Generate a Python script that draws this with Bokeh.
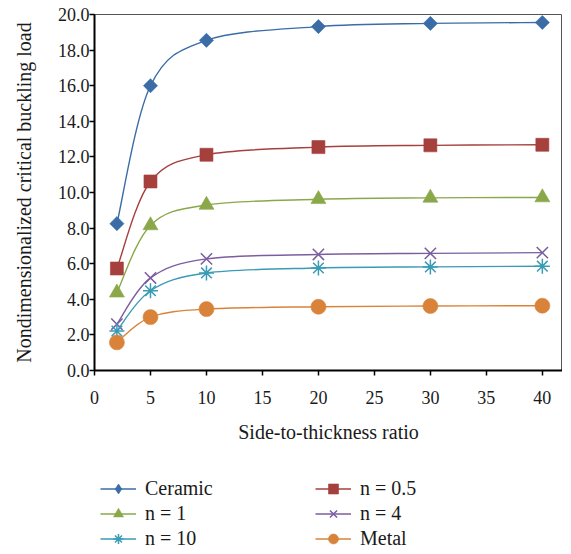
import numpy as np
from bokeh.plotting import figure
from bokeh.layouts import column
from bokeh.models import Legend, LegendItem, PrintfTickFormatter, FixedTicker, Range1d, ColumnDataSource
from bokeh.embed import file_html
from bokeh.resources import INLINE

# ---- data ----
ratio = [2, 5, 10, 20, 30, 40]
ceramic = [8.25, 16.0, 18.55, 19.32, 19.5, 19.55]
n05 = [5.73, 10.62, 12.12, 12.55, 12.65, 12.68]
n1 = [4.37, 8.15, 9.3, 9.62, 9.7, 9.72]
n4 = [2.6, 5.2, 6.27, 6.52, 6.58, 6.62]
n10 = [2.22, 4.48, 5.48, 5.76, 5.82, 5.86]
metal = [1.58, 3.0, 3.45, 3.58, 3.62, 3.64]

series_names = ["Ceramic", "n = 0.5", "n = 1", "n = 4", "n = 10", "Metal"]
series_vals = [ceramic, n05, n1, n4, n10, metal]
colors = ["#3b6ca6", "#a5403d", "#8aa84a", "#7b5e9f", "#3a9bb5", "#d9833a"]
markers = ["square", "square", "triangle", "x", "asterisk", "circle"]
legend_markers = ["diamond", "square", "triangle", "x", "asterisk", "circle"]
msizes = [10, 13, 15, 16, 15, 15]
angles = [np.pi / 4, 0, 0, 0, 0, 0]

FONT = "Liberation Serif"

p = figure(width=562, height=460, output_backend="svg", toolbar_location=None,
           x_range=Range1d(0, 41.8), y_range=Range1d(0, 20),
           min_border_left=94, min_border_right=0, min_border_top=14, min_border_bottom=90)
p.background_fill_color = "white"
p.border_fill_color = "white"
p.grid.visible = False
p.outline_line_color = "#555555"
p.outline_line_width = 1

# legend-only figure
lf = figure(width=562, height=93, output_backend="svg", toolbar_location=None,
            x_range=Range1d(0, 1), y_range=Range1d(0, 1),
            min_border_left=0, min_border_right=0, min_border_top=0, min_border_bottom=0,
            x_axis_location=None, y_axis_location=None)
lf.grid.visible = False
lf.outline_line_color = None
lf.background_fill_color = "white"
lf.border_fill_color = "white"


def smooth_bezier(xs, ys):
    xs = np.asarray(xs, float)
    ys = np.asarray(ys, float)
    n = len(xs)
    d = dict(x0=[], y0=[], x1=[], y1=[], cx0=[], cy0=[], cx1=[], cy1=[])
    for i in range(n - 1):
        i0 = max(i - 1, 0)
        i3 = min(i + 2, n - 1)
        d["x0"].append(xs[i]); d["y0"].append(ys[i])
        d["x1"].append(xs[i + 1]); d["y1"].append(ys[i + 1])
        d["cx0"].append(xs[i] + (xs[i + 1] - xs[i0]) / 6)
        d["cy0"].append(ys[i] + (ys[i + 1] - ys[i0]) / 6)
        d["cx1"].append(xs[i + 1] - (xs[i3] - xs[i]) / 6)
        d["cy1"].append(ys[i + 1] - (ys[i3] - ys[i]) / 6)
    return d


items = []
for name, vals, c, m, lm, s, a in zip(series_names, series_vals, colors, markers,
                                      legend_markers, msizes, angles):
    src = ColumnDataSource(smooth_bezier(ratio, vals))
    p.bezier(x0="x0", y0="y0", x1="x1", y1="y1", cx0="cx0", cy0="cy0", cx1="cx1", cy1="cy1",
             source=src, line_color=c, line_width=1.4)
    if m in ("x", "asterisk"):
        p.scatter(ratio, vals, marker=m, size=s, line_color=c, line_width=1.5)
    else:
        p.scatter(ratio, vals, marker=m, size=s, fill_color=c, line_color=c,
                  line_width=1, line_alpha=0.6, angle=a)
    # legend proxies (not drawn in the plot, legend glyphs only)
    leg_line = lf.line(x=[np.nan], y=[np.nan], line_color=c, line_width=1.4)
    if lm in ("x", "asterisk"):
        leg_mark = lf.scatter(x=[np.nan], y=[np.nan], marker=lm, size=s, line_color=c, line_width=1.5)
    else:
        leg_mark = lf.scatter(x=[np.nan], y=[np.nan], marker=lm, size=s, fill_color=c, line_color=c,
                              line_width=1, line_alpha=0.6)
    items.append(LegendItem(label=name, renderers=[leg_line, leg_mark]))

# axes
for ax in (p.xaxis[0], p.yaxis[0]):
    ax.axis_line_width = 2
    ax.axis_line_color = "black"
    ax.major_tick_line_color = "black"
    ax.major_tick_line_width = 1.5
    ax.major_tick_in = 0
    ax.major_tick_out = 5
    ax.minor_tick_line_color = None
    ax.major_label_text_font = FONT
    ax.major_label_text_font_size = "18px"
    ax.major_label_text_color = "#1a1a1a"
    ax.axis_label_text_font = FONT
    ax.axis_label_text_font_size = "20px"
    ax.axis_label_text_font_style = "normal"
    ax.axis_label_text_color = "#1a1a1a"

p.xaxis.ticker = FixedTicker(ticks=[0, 5, 10, 15, 20, 25, 30, 35, 40])
p.yaxis.ticker = FixedTicker(ticks=[0, 2, 4, 6, 8, 10, 12, 14, 16, 18, 20])
p.yaxis.formatter = PrintfTickFormatter(format="%.1f")
p.xaxis.axis_label = "Side-to-thickness ratio"
p.yaxis.axis_label = "Nondimensionalized critical buckling load"
p.xaxis.major_label_standoff = 15
p.yaxis.major_label_standoff = 0
p.xaxis.axis_label_standoff = 14
p.yaxis.axis_label_standoff = 20

legend_cols = [[items[0], items[2], items[4]], [items[1], items[3], items[5]]]
for vx, col in zip((6, 221), legend_cols):
    lg = Legend(items=col, location=(vx, 2), orientation="vertical",
                padding=0, margin=0, spacing=0, label_standoff=9,
                glyph_width=36, glyph_height=25, label_height=20,
                label_text_font=FONT, label_text_font_size="20px", label_text_color="#1a1a1a",
                border_line_alpha=0, background_fill_alpha=0)
    lf.add_layout(lg, "center")

layout = column(p, lf, spacing=0)
open("out.html", "w").write(file_html(layout, INLINE))
